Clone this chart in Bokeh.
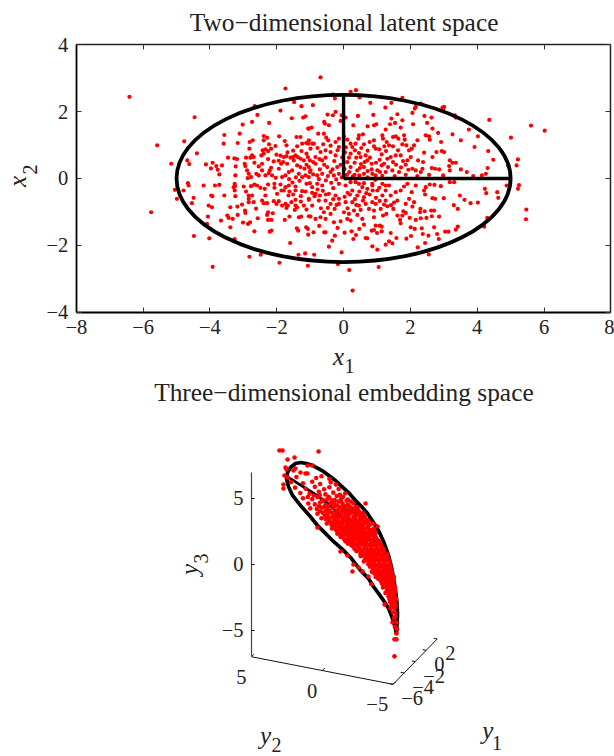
from math import pi
from bokeh.embed import file_html
from bokeh.resources import INLINE
from bokeh.layouts import column
from bokeh.models import ColumnDataSource, FixedTicker, Label, LinearAxis, Range1d
from bokeh.plotting import figure
from bokeh.core.properties import value

FONT = "Liberation Serif"
INK = "#222222"

# ---- latent space: (x1, x2) ----
latent_points = [
(-6.41,2.44),(-5.58,.99),(-5.16,.44),(-4.46,1.83),(-4.77,1.11),(-4.39,.75),(-4.68,.54),(-4.62,.43),(-4.12,.42),(-3.92,.47),
(-3.97,.30),(-3.81,.37),(-3.64,.39),(-3.77,.26),(-3.72,.12),(-3.46,.62),(-3.59,1.04),(-3.57,1.30),(-3.11,1.34),(-3.17,1.06),
(-3.27,.60),(-3.19,.58),(-3.23,.36),(-2.96,.44),(-2.92,.62),(-3.02,1.61),(-2.74,1.69),(-2.58,1.90),(-2.66,2.16),(-2.23,1.66),
(-1.89,2.03),(-1.74,2.69),(-1.48,2.28),(-1.26,2.16),(-1.55,1.80),(-1.21,1.82),(-1.14,1.86),(-1.04,1.49),(-2.39,1.27),(-1.93,1.26),
(-1.41,1.24),(-1.29,1.24),(-2.82,.89),(-2.81,1.09),(-2.72,1.14),(-2.39,1.14),(-2.29,1.22),(-2.23,1.02),(-2.42,.84),(-2.34,.87),
(-2.26,.82),(-2.17,.89),(-2.04,.97),(-2.39,.74),(-2.46,.69),(-2.01,.71),(-1.76,1.12),(-1.71,.99),(-1.39,.96),(-1.24,1.04),
(-1.12,1.06),(-1.04,1.14),(-.94,1.04),(-2.74,.69),(-2.69,.64),(-2.79,.62),(-2.67,.47),(-2.44,.44),(-2.17,.32),(-2.21,.24),
(-2.94,.37),(-2.89,.24),(-2.84,.14),(-2.77,.04),(-2.87,.01),(-2.61,.14),(-2.54,.09),(-2.44,.24),(-2.34,.09),(-2.24,.16),
(-2.14,.09),(-2.03,.02),(-1.94,.29),(-1.87,.44),(-1.81,.49),(-1.69,.44),(-1.79,.64),(-1.71,.67),(-1.59,.62),(-1.51,.64),
(-1.44,.69),(-1.37,.64),(-1.29,.59),(-1.19,.54),(-1.11,.74),(-1.07,.64),(-1.01,.54),(-1.49,.54),(-1.39,.39),(-1.29,.34),
(-1.17,.29),(-1.04,.34),(-1.64,.19),(-1.54,.24),(-1.74,.09),(-1.84,.04),(-1.34,.14),(-1.24,.04),(-1.14,.09),(-1.01,.19),
(-3.24,.09),(-3.26,-.16),(-3.29,-.26),
(-5.76,-1.01),(-3.92,-2.64),(-4.48,-1.72),(-4.02,-1.79),(-4.09,-1.36),(-4.06,-1.14),(-4.04,-.81),(-3.94,-.86),(-3.96,-.51),(-3.93,-.53),
(-4.49,-.58),(-4.54,-.74),(-4.79,-.36),(-4.99,-.61),(-5.05,-.34),(-4.66,-.14),(-4.64,-.21),(-4.19,-.21),(-3.85,-.21),(-3.72,-.19),
(-3.57,-.51),(-3.39,-.86),(-3.18,-.84),(-3.04,-.78),(-3.48,-1.11),(-3.44,-1.18),(-3.67,-1.26),(-3.32,-1.21),(-3.17,-1.09),(-2.95,-.96),
(-2.94,-1.03),(-3.01,-1.32),(-3.39,-1.46),(-2.86,-1.36),(-2.80,-1.31),(-2.57,-1.19),(-2.62,-.90),(-2.67,-1.58),(-3.26,-1.81),(-2.82,-2.34),
(-2.48,-2.28),(-1.92,-2.52),(-1.60,-1.93),(-1.35,-2.28),(-1.15,-2.24),(-1.07,-2.61),(-2.21,-1.59),(-2.16,-1.56),(-1.76,-1.24),(-1.40,-1.49),
(-1.36,-1.56),(-1.62,-1.14),(-1.34,-1.16),(-1.27,-1.14),(-1.04,-1.13),(-1.12,-1.46),(-1.07,-1.51),(-1.06,-1.68),(-2.26,-1.24),(-2.16,-1.24),
(-2.29,-1.09),(-2.26,-1.01),(-2.12,-1.04),(-2.84,-.51),(-2.84,-.61),(-2.84,-.71),(-2.69,-.71),(-2.74,-.51),(-3.24,-.53),(-3.26,-.36),
(-3.25,-.23),(-2.99,-.24),(-2.92,-.39),(-2.77,-.23),(-2.67,-.18),(-2.59,-.21),(-2.49,-.28),(-2.44,-.66),(-2.39,-.74),(-2.29,-.74),
(-2.34,-.51),(-2.36,-.31),(-2.26,-.18),(-2.07,-.16),(-2.07,-.28),(-1.89,-.18),(-1.86,-.36),(-1.99,-.46),(-2.09,-.68),(-2.01,-.76),
(-1.94,-.68),(-1.84,-.81),(-1.74,-.76),(-1.71,-.88),(-1.67,-.81),(-1.65,-.51),(-1.51,-.48),(-1.44,-.64),(-1.44,-.81),(-1.46,-.94),
(-1.39,-.86),(-1.19,-.81),(-1.11,-.93),(-1.04,-.64),(-1.74,-.26),(-1.64,-.21),(-1.44,-.24),(-1.44,-.36),(-1.24,-.38),(-1.14,-.39),
(-1.11,-.16),(-1.01,-.14),(-1.79,-.36),
(.27,-3.35),(.17,-2.74),(1.05,-2.65),(-.17,-2.56),(2.55,-2.27),(2.22,-2.06),(1.01,-2.13),(.86,-2.03),(-.06,-2.21),(-.44,-2.04),
(-.34,-1.86),(-.88,-2.28),(1.26,-1.98),(1.36,-1.88),(1.46,-1.94),(1.58,-1.78),(1.88,-1.80),(2.02,-1.72),(2.44,-1.93),(2.37,-1.66),
(2.54,-1.71),(2.80,-1.66),(2.85,-1.81),(3.04,-1.59),(3.14,-1.59),(3.36,-1.53),(3.42,-1.44),(4.21,-1.44),(4.30,-1.18),(5.47,-.93),
(5.46,-1.22),(2.71,-1.46),(2.34,-1.49),(2.13,-1.51),(2.01,-1.46),(1.41,-1.63),(.66,-1.78),(.71,-1.79),(.29,-1.81),(.24,-1.58),
(.37,-1.69),(.47,-1.51),(.84,-1.56),(.91,-1.54),(1.00,-1.63),(1.14,-1.58),(.96,-1.41),(1.08,-1.41),(1.14,-1.44),(-.58,-1.61),
(-.54,-1.61),(-.26,-1.71),(-.90,-1.61),(2.86,-1.14),(2.64,-1.13),(2.48,-1.18),(2.31,-1.19),(2.16,-1.24),(1.98,-1.18),(1.79,-.98),
(1.76,-1.11),(1.61,-1.11),(1.69,-1.24),(1.71,-1.34),(1.28,-1.06),(1.18,-1.11),(1.49,-.91),(1.86,-1.03),(2.06,-.84),(2.30,-.91),
(2.29,-1.01),(2.43,-.98),(2.62,-.96),(2.71,-.96),(3.30,-.80),(3.42,-.91),(3.80,-.74),(4.02,-.72),(3.62,-.64),(3.48,-.51),
(3.00,-.59),(2.74,-.61),(2.66,-.59),(2.44,-.48),(2.41,-.36),(2.46,-.26),(2.58,-.18),(2.72,-.19),(2.91,-.23),(3.18,-.11),
(3.31,-.11),(4.23,-.31),(4.27,-.44),(4.60,-.41),(4.63,-.58),(5.25,-.20),(5.22,-.31),(4.88,-.21),(2.16,-.21),(2.04,-.41),
(1.96,-.61),(2.11,-.71),(1.86,-.76),(1.61,-.66),(1.56,-.41),(1.26,-.36),(1.16,-.51),(1.01,-.36),(.86,-.21),(.71,-.31),
(.56,-.26),(.41,-.51),(.26,-.36),(.06,-.21),(-.14,-.16),(-.24,-.51),(-.14,-.61),(-.44,-.46),(-.54,-.66),(-.39,-.76),
(-.74,-.66),(-.84,-.46),(-1.04,-.61),(-.94,-.81),(-.69,-1.16),(-.54,-1.21),(-.29,-1.31),(-.09,-1.28),(.11,-1.21),(.21,-1.26),
(.41,-1.09),(.56,-1.21),(.91,-1.16),(.91,-.96),(.76,-.91),(.51,-.94),(.31,-.96),(.16,-1.06),(.01,-1.01),(-.39,-1.06),
(-.59,-1.01),(-.99,-1.14),(-.84,-1.21),(.96,-.76),(.86,-.71),(.66,-.76),(.46,-.81),(.26,-.71),(.06,-.71),(-.14,-.76),
(1.11,-.91),(1.26,-.66),(1.41,-.51),(1.71,-.36),(1.81,-.24),(1.91,-.16),(1.36,-.21),(1.16,-.16),(.46,-.16),(.21,-.11),
(-.64,-.21),(-.79,-.16),(-.94,-.26),(-.78,-.33),(-.62,-.37),(-.31,-.29),(.12,-.43),(.34,-.62),(.61,-.56),(.78,-.48),
(.97,-.58),(1.07,-.28),(1.31,-.83),(1.51,-.72),(-.27,-.91),(-.68,-.89),(-.18,-1.48),(.03,-1.62),(-.73,-1.42),(.61,-1.38),
(-.69,3.02),(.37,2.64),(.21,2.59),(-.32,2.51),(-.26,2.39),(-.92,2.19),(.48,2.42),(.80,2.26),(1.76,2.41),(1.25,2.12),
(1.43,2.26),(2.13,2.09),(2.16,2.14),(2.31,2.24),(2.96,2.12),(3.01,2.14),(2.98,2.06),(3.33,1.89),(3.36,1.82),(2.42,1.87),
(2.63,1.82),(2.06,1.96),(4.36,1.75),(5.61,1.58),(6.02,1.43),(5.01,1.22),(3.75,1.46),(4.02,1.26),(3.26,1.32),(2.83,1.36),
(2.66,1.49),(2.50,1.66),(2.08,1.62),(1.61,1.92),(1.76,1.74),(1.43,1.79),(1.54,1.66),(1.39,1.62),(1.71,1.52),(1.26,1.46),
(.89,1.90),(.43,1.87),(.29,1.59),(.72,1.56),(.91,1.59),(.98,1.62),(-.06,1.89),(.06,1.82),(-.24,1.99),(-.32,1.89),
(-.48,1.91),(-.58,1.69),(-.56,1.64),(-.44,1.59),(-.09,1.72),(-.96,1.52),(-1.06,1.49),(-.76,1.34),(-.59,1.34),(-.52,1.22),
(-.46,1.14),(-.24,1.09),(-.14,1.19),(.01,1.26),(.11,1.16),(.21,1.04),(.36,1.04),(.46,1.29),(.58,1.32),(.44,1.19),
(.61,1.02),(.91,1.14),(.78,1.09),(1.16,1.29),(1.18,1.19),(1.29,1.09),(1.48,1.24),(1.56,1.26),(1.64,1.19),(1.81,1.29),
(1.83,1.16),(1.36,.99),(1.48,.96),(1.76,1.02),(1.88,.99),(2.11,.99),(2.04,.89),(2.21,1.14),(2.46,1.29),(2.56,1.26),
(2.58,1.16),(2.92,1.09),(3.51,1.14),(3.92,.94),(4.33,.82),(4.48,.56),(4.93,.39),(5.22,.57),(5.18,.39),(4.31,.31),
(4.14,.09),(4.26,.14),(3.88,.07),(3.69,.19),(3.51,.27),(3.36,.47),(3.26,.47),(3.18,.54),(3.16,.37),(3.18,.24),
(3.01,.79),(2.94,.82),(2.78,.79),(2.66,.64),(2.64,.31),(2.74,.29),(2.86,.27),(2.98,.09),(2.38,.49),(2.41,.77),
(2.36,.29),(2.31,.19),(1.96,.84),(2.01,.64),(2.23,.54),(2.06,.29),(1.94,.26),(2.16,.24),(1.91,.54),(1.78,.52),
(1.71,.69),(1.56,.69),(1.41,.64),(1.31,.59),(1.48,.49),(1.21,.44),(1.08,.56),(1.14,.39),(1.01,.24),(.84,.44),
(.71,.54),(.66,.69),(.91,.96),(.96,.89),(.46,.76),(.51,.64),(.26,.94),(.34,.84),(.21,.74),(.11,.49),
(.21,.34),(.41,.24),(.61,.34),(.61,.14),(.86,.14),(1.26,.19),(1.46,.24),(1.66,.19),(-.14,.94),(-.24,.69),
(-.39,.79),(-.54,.84),(-.69,.79),(-.84,.64),(-.99,.89),(-1.06,1.04),(-.89,1.04),(-.64,.54),(-.49,.34),(-.39,.19),
(-.64,.14),(-.84,.44),(-.99,.24),(-.19,.34),(-.14,.14),(-.29,.09),(-.79,.09),(-1.04,.04),(.36,-.11),(.61,-.14),
(.86,-.16),(1.26,-.21),(-.47,.07),(-.33,.27),(-.71,.27),(-.58,.41),(-.09,.41),(.33,.47),(.52,.43),(.84,.27),
(1.16,.08),(1.53,.07),(1.86,.11),(2.21,.07),(2.56,.11),
(-.91,.12),(-.74,-.02),(-.53,-.06),(-.37,-.13),(-.22,-.03),(-.05,.03),(.1,.11),(.28,.06),(.47,.09),(.72,.03),
(.95,-.04),(-1.32,-.07),(-1.53,-.12),(-.87,-.53),(-.71,-.51),(-.53,-.48),(-.31,-.62),(.03,-.55),(.19,-.48),(.47,-.39),
(.68,-.44),(.87,-.36),(1.08,-.67),(1.21,-.78),(1.42,-.8),(-.47,-.88),(-.21,-.79),(.12,-.89),(.38,-.79),(.58,-.66),
(-.94,-.43),(-1.28,-.53),(-1.56,-.71),(-1.28,-.69),(-1.62,-.39),(.03,.28),(.17,.19),(.33,.11),(.49,.31),(.72,.22),
(.96,.09),(1.09,.19),(1.33,.34),(1.57,.41),(1.72,.33),(1.86,.41),(-.54,.62),(-.72,.58),(-.91,.49),(-1.11,.41),
(-.28,.52),(-.04,.63),(.04,.78),(.16,.62),(.38,.62),(.63,.49),(.79,.62),(.97,.47),(1.14,.72),(1.27,.82),
(-.39,.98),(-.61,1.02),(-.78,.91),(-.18,.84),(.07,.93),(.53,.91),(.72,.83),(1.07,.87),(1.22,.96),(1.63,.84),
(-1.26,.82),(-1.51,.83),(-1.68,.78),(-1.89,.68),(-1.94,.53),(-2.09,.51),(-2.26,.58),(-2.54,.36),(-1.63,-.02),(-1.43,.03),
]
latent_x1 = [a for a, b in latent_points]
latent_x2 = [b for a, b in latent_points]

# ---- embedding space: the cloud and the curve in the view plane (y3 units) ----
embedded_points = [
(2.12,8.64),(2.35,8.64),(5.08,8.56),(2.73,7.95),(3.26,8.11),(2.58,7.35),(2.65,7.2),(2.5,6.74),(2.42,6.06),(2.42,5.76),
(2.73,6.59),(3.18,7.12),(3.33,7.27),(3.71,6.97),(4.09,6.89),(4.24,6.89),(4.24,7.5),(4.62,7.5),(8.64,4.62),(9.55,2.88),
(10.3,.76),(7.65,-.53),(6.74,.98),(7.27,.68),(7.73,0),(8.11,-.23),(8.41,-.53),(8.86,-.91),(5.0,2.8),(9.39,2.35),
(9.09,-1.5),(10.08,-3.03),(10.53,-3.33),(10.68,-4.39),(10.9,-2.12),(10.9,-3.64),(10.98,-5.23),(10.83,-5.68),(10.98,-5.68),(10.83,-6.97),
(3.4,6.62),(4.9,6.55),(5.3,6.68),(5.9,6.5),(3.0,6.24),(3.9,6.15),(4.6,6.27),(5.2,6.1),(6.0,6.22),(6.4,6.05),
(3.3,5.82),(4.1,5.74),(4.8,5.88),(5.5,5.7),(5.9,5.85),(6.6,5.72),(3.7,5.42),(4.4,5.36),(5.1,5.5),(5.6,5.31),
(6.2,5.44),(6.7,5.28),(7.1,5.4),(3.9,5.02),(4.6,4.95),(5.0,5.1),(5.4,4.9),(5.9,5.05),(6.3,4.88),(6.8,5.0),
(7.3,4.92),(4.3,4.62),(4.8,4.55),(5.2,4.7),(5.6,4.5),(6.0,4.66),(6.5,4.48),(6.9,4.6),(7.3,4.52),(7.7,4.64),
(4.45,4.25),(4.95,4.2),(5.35,4.32),(5.8,4.15),(6.15,4.28),(6.55,4.12),(6.95,4.24),(7.35,4.1),(7.75,4.22),(8.05,4.3),
(5.0,3.85),(5.4,3.92),(5.75,3.78),(6.1,3.9),(6.45,3.75),(6.8,3.88),(7.1,3.72),(7.45,3.85),(7.8,3.7),(8.15,3.84),(8.45,3.9),
(5.3,3.5),(5.65,3.42),(6.0,3.56),(6.3,3.38),(6.6,3.52),(6.9,3.36),(7.2,3.5),(7.5,3.34),(7.8,3.48),(8.1,3.32),(8.4,3.46),(8.75,3.38),
(5.7,3.1),(6.05,3.02),(6.35,3.16),(6.65,3.0),(6.95,3.14),(7.25,2.98),(7.5,3.1),(7.8,2.96),(8.05,3.12),(8.35,2.98),(8.6,3.1),(8.95,3.0),(9.2,3.08),
(6.1,2.72),(6.4,2.62),(6.7,2.76),(7.0,2.6),(7.25,2.74),(7.5,2.6),(7.75,2.72),(8.0,2.58),(8.25,2.72),(8.5,2.6),(8.75,2.74),(9.0,2.6),(9.25,2.7),
(6.5,2.32),(6.8,2.24),(7.05,2.36),(7.3,2.22),(7.55,2.34),(7.8,2.2),(8.05,2.34),(8.3,2.2),(8.55,2.32),(8.8,2.22),(9.05,2.34),(9.3,2.2),
(7.0,1.94),(7.25,1.86),(7.5,1.98),(7.72,1.84),(7.95,1.96),(8.18,1.84),(8.4,1.96),(8.62,1.84),(8.85,1.96),(9.08,1.84),(9.3,1.96),(9.52,1.86),
(7.3,1.58),(7.55,1.48),(7.8,1.6),(8.02,1.46),(8.25,1.58),(8.48,1.46),(8.7,1.58),(8.92,1.46),(9.14,1.58),(9.36,1.46),(9.58,1.58),(9.8,1.5),
(7.8,1.18),(8.02,1.08),(8.24,1.2),(8.46,1.08),(8.68,1.2),(8.9,1.08),(9.12,1.2),(9.34,1.08),(9.56,1.2),(9.78,1.08),(10.0,1.18),
(8.25,.8),(8.46,.7),(8.68,.82),(8.9,.7),(9.12,.82),(9.34,.7),(9.56,.82),(9.78,.7),(10.0,.82),(10.2,.7),
(8.6,.4),(8.8,.3),(9.0,.42),(9.2,.3),(9.4,.42),(9.6,.3),(9.8,.42),(10.0,.3),(10.2,.42),(10.4,.32),
(8.85,.02),(9.05,-.08),(9.25,.04),(9.45,-.08),(9.65,.04),(9.85,-.08),(10.05,.04),(10.25,-.08),(10.45,.02),
(9.2,-.38),(9.4,-.46),(9.6,-.36),(9.8,-.46),(10.0,-.36),(10.2,-.46),(10.4,-.36),(10.58,-.44),
(9.55,-.78),(9.74,-.86),(9.92,-.76),(10.1,-.86),(10.28,-.76),(10.46,-.86),(10.62,-.76),
(9.75,-1.18),(9.93,-1.26),(10.1,-1.16),(10.28,-1.26),(10.46,-1.16),(10.64,-1.26),(10.78,-1.16),
(10.0,-1.58),(10.17,-1.66),(10.34,-1.56),(10.5,-1.66),(10.66,-1.56),(10.8,-1.66),
(10.26,-1.98),(10.42,-2.06),(10.58,-1.96),(10.72,-2.06),(10.85,-1.98),
(10.38,-2.42),(10.55,-2.5),(10.7,-2.4),(10.85,-2.5),(10.5,-2.82),(10.68,-2.9),(10.85,-2.82),
(10.66,-3.22),(10.84,-3.3),(10.72,-3.62),(10.92,-3.95),(10.8,-4.05),(10.98,-4.4),(10.86,-4.72),(11.02,-4.9),
(5.4,4.81),(6.13,4.84),(6.77,4.79),(7.21,4.83),(5.57,4.37),(6.31,4.41),(6.82,4.35),(7.44,4.39),(7.9,4.33),
(5.21,4.05),(5.93,4.02),(6.47,4.07),(7.05,4.01),(7.62,4.08),(8.14,4.03),(5.55,3.68),(6.22,3.65),(6.71,3.71),(7.33,3.64),(7.96,3.7),(8.27,3.66),
(5.92,3.27),(6.51,3.24),(7.07,3.3),(7.64,3.23),(8.19,3.29),(8.62,3.25),(6.27,2.86),(6.83,2.89),(7.38,2.84),(7.91,2.88),(8.44,2.83),(8.83,2.87),
(6.61,2.45),(7.13,2.48),(7.66,2.43),(8.17,2.47),(8.68,2.42),(9.13,2.46),(6.74,2.09),(7.36,2.06),(7.88,2.11),(8.39,2.07),(8.91,2.12),(9.42,2.05),
(7.12,1.75),(7.61,1.72),(8.12,1.77),(8.57,1.73),(9.02,1.78),(9.47,1.71),(9.7,1.76),(7.66,1.38),(8.09,1.35),(8.59,1.4),(9.01,1.36),(9.44,1.41),(9.86,1.34),
(7.95,1.01),(8.36,.98),(8.81,1.03),(9.27,.97),(9.67,1.02),(10.04,.99),(8.28,.62),(8.72,.59),(9.07,.64),(9.49,.58),(9.91,.63),(10.28,.6),
(8.51,.22),(8.93,.19),(9.33,.24),(9.72,.18),(10.12,.23),(10.47,.2),(8.98,-.17),(9.31,-.2),(9.7,-.15),(10.11,-.21),(10.52,-.16),
(9.12,-.55),(9.49,-.58),(9.88,-.53),(10.27,-.59),(10.63,-.54),(9.41,-.95),(9.79,-.98),(10.18,-.93),(10.55,-.99),(10.79,-.94),
(9.84,-1.33),(10.04,-1.36),(10.37,-1.31),(10.7,-1.37),(9.96,-1.75),(10.31,-1.78),(10.61,-1.73),(10.87,-1.79),
(10.15,-2.17),(10.49,-2.2),(10.79,-2.15),(10.45,-2.63),(10.78,-2.66),(10.95,-2.61),(10.6,-3.07),(10.95,-3.1),
(6.12,3.05),(6.74,3.07),(7.27,3.03),(7.83,3.08),(8.31,3.04),(6.88,2.62),(7.43,2.65),(7.97,2.6),(8.51,2.64),
(7.0,2.23),(7.57,2.26),(8.1,2.21),(8.65,2.25),(9.17,2.2),(7.4,1.86),(7.88,1.89),(8.45,1.84),(8.8,1.88),(9.27,1.83),
(7.93,1.52),(8.37,1.55),(8.79,1.5),(9.25,1.54),(9.69,1.49),(8.15,1.13),(8.59,1.16),(9.03,1.11),(9.45,1.15),(9.87,1.1),
(8.5,.74),(8.95,.77),(9.3,.72),(9.72,.76),(10.12,.71),(8.73,.38),(9.14,.41),(9.53,.36),(9.92,.4),(10.3,.35),
(9.15,-.1),(9.55,-.07),(9.93,-.12),(10.33,-.08),(9.31,-.68),(9.68,-.65),(10.07,-.7),(10.43,-.66),
(9.6,-1.08),(9.98,-1.05),(10.36,-1.1),(10.68,-1.06),(9.9,-1.46),(10.2,-1.43),(10.56,-1.48),
(5.17,5.27),(5.83,5.13),(6.46,5.19),(6.94,5.13),(7.52,4.77),(4.71,5.23),(4.27,5.11),(5.74,4.93),(6.58,4.77),(7.04,4.43),
(5.12,4.41),(5.82,4.42),(6.26,4.59),(6.68,4.32),(7.16,4.21),(7.55,4.27),(7.92,4.02),(5.63,4.07),(6.33,3.94),(6.84,4.02),
(7.25,3.91),(7.66,3.95),(8.32,3.71),(8.58,3.62),(5.86,3.53),(6.42,3.6),(6.94,3.55),(7.38,3.42),(7.72,3.58),(8.23,3.52),
(6.22,3.28),(6.78,3.21),(7.36,3.19),(7.93,3.24),(8.47,3.19),(8.88,3.22),(6.46,2.92),(7.1,2.82),(7.62,2.9),(8.19,2.86),
(6.88,2.45),(7.39,2.42),(7.92,2.45),(8.41,2.4),(8.92,2.48),(9.35,2.48),(6.92,2.06),(7.62,2.06),(8.15,2.03),(8.67,2.03),
]
embedded_u = [a for a, b in embedded_points]
embedded_v = [b for a, b in embedded_points]

curve_points = [
(10.98,-5.30),(10.91,-4.85),(10.68,-4.09),(10.38,-3.33),(10.0,-2.73),(9.62,-2.2),(9.24,-1.67),(8.86,-1.06),(8.26,-.45),(7.5,.53),
(6.89,1.14),(6.21,1.74),(5.61,2.35),(5.0,2.95),(4.32,3.79),(3.71,4.47),(3.11,5.23),(2.8,5.91),(2.65,6.52),(2.73,6.97),
(2.95,7.35),(3.33,7.65),(3.71,7.73),(4.17,7.65),(4.62,7.5),(5.45,7.05),(6.36,6.36),(7.35,5.45),(7.88,4.85),(8.33,4.39),
(8.79,3.86),(9.24,3.18),(9.62,2.58),(10.0,1.74),(10.38,.68),(10.61,-.23),(10.76,-1.06),(10.91,-1.97),(11.02,-2.88),(11.06,-3.79),
(11.02,-4.62),(10.98,-5.30),
]
curve_u = [a for a, b in curve_points]
curve_v = [b for a, b in curve_points]
spoke_a_u = [2.8, 4.7, 5.8, 7.3, 7.9]
spoke_a_v = [6.6, 5.4, 4.6, 3.2, 2.6]
spoke_b_u = [7.9, 7.9]
spoke_b_v = [2.6, 4.85]

x1_ticks = [-8, -6, -4, -2, 0, 2, 4, 6, 8]
x2_ticks = [-4, -2, 0, 2, 4]
y1_ticks = [2, 0, -2, -4, -6]
y2_ticks = [5, 0, -5]
y3_ticks = [-5, 0, 5]


def tick_text(t):
    return str(t).replace("-", "\u2212")


def text_label(fig, x, y, text, size, italic=False, angle=0):
    fig.add_layout(Label(x=x, y=y, text=text, angle=angle, text_align="center", text_baseline="middle",
                         text_font=FONT, text_font_size=size, text_color=INK,
                         text_font_style="italic" if italic else "normal"))


# ---------- top panel ----------
p1 = figure(width=614, height=377, frame_width=614, frame_height=377, output_backend="svg", toolbar_location=None,
            x_range=Range1d(-10.27, 8.11), y_range=Range1d(-5.95, 5.32), min_border_left=0, min_border_right=0,
            min_border_top=0, min_border_bottom=0,
            background_fill_color="white", border_fill_color="white", outline_line_color=None)
p1.grid.visible = False

for ax, tk, loc, bd in ((p1.xaxis[0], x1_ticks, -4, (-8, 8)), (p1.yaxis[0], x2_ticks, -8, (-4, 4))):
    ax.fixed_location = loc
    ax.bounds = bd
    ax.ticker = FixedTicker(ticks=tk)
    ax.major_label_overrides = {t: tick_text(t) for t in tk}
    ax.major_label_text_font = FONT
    ax.major_label_text_font_size = "20.5px"
    ax.major_label_text_color = INK
    ax.major_tick_in = 5
    ax.major_tick_out = 0
    ax.minor_tick_in = 0
    ax.minor_tick_out = 0
    ax.axis_line_width = 1.8
    ax.axis_line_color = "black"
    ax.major_tick_line_color = "#333333"
    ax.major_label_standoff = 8
for side, tk, loc, bd in (("above", x1_ticks, 4, (-8, 8)), ("right", x2_ticks, 8, (-4, 4))):
    ax = LinearAxis(ticker=FixedTicker(ticks=tk), major_label_overrides={t: "" for t in tk}, fixed_location=loc, bounds=bd,
                    major_tick_in=5, major_tick_out=0, minor_tick_in=0, minor_tick_out=0,
                    axis_line_width=1.5, axis_line_color="#222222", major_tick_line_color="#333333",
                    major_label_standoff=0, major_label_text_font_size="1px")
    p1.add_layout(ax, side)

src = ColumnDataSource(dict(x=latent_x1, y=latent_x2))
p1.scatter("x", "y", source=src, size=4.2, color="#ff0000", line_color=None)
p1.ellipse(x=[0], y=[0], width=[10], height=[5], fill_color=None, line_color="black", line_width=3.8)
p1.line([0, 5], [0, 0], line_color="black", line_width=3.4)
p1.line([0, 0], [0, 2.5], line_color="black", line_width=3.4)

text_label(p1, .015, 4.69, "Two\u2212dimensional latent space", "25.4px")
text_label(p1, -.15, -5.32, "x", "25px", True)
text_label(p1, .18, -5.6, "1", "20px")
text_label(p1, -9.76, -.09, "x", "25px", True, pi / 2)
text_label(p1, -9.4, .27, "2", "20px", False, pi / 2)

# ---------- bottom panel ----------
p2 = figure(width=614, height=379, frame_width=614, frame_height=379, output_backend="svg", toolbar_location=None,
            x_range=Range1d(-19.015, 27.5), y_range=Range1d(-14.56, 14.17), min_border_left=0, min_border_right=0,
            min_border_top=0, min_border_bottom=0,
            background_fill_color="white", border_fill_color="white", outline_line_color=None)
p2.grid.visible = False
p2.xaxis.visible = False

y3ax = p2.yaxis[0]
y3ax.fixed_location = 0
y3ax.bounds = (-7, 7)
y3ax.ticker = FixedTicker(ticks=y3_ticks)
y3ax.major_label_overrides = {t: tick_text(t) for t in y3_ticks}
y3ax.major_label_text_font = FONT
y3ax.major_label_text_font_size = "20.5px"
y3ax.major_label_text_color = INK
y3ax.major_tick_in = 3
y3ax.major_tick_out = 0
y3ax.minor_tick_in = 0
y3ax.minor_tick_out = 0
y3ax.major_label_standoff = 8
y3ax.axis_line_color = "#444444"
y3ax.axis_line_width = 1.2


def project(y1, y2):
    """View-plane position of a point on the floor of the 3-D box (y3 = -7)."""
    return (5 - y2) * 1.073 + (y1 + 6) * 0.4175, -7 - (5 - y2) * 0.209 + (y1 + 6) * 0.43


y2_line = [project(-6, t) for t in (5, -5)]
y1_line = [project(t, -5) for t in (-6, 2)]
p2.line([a for a, b in y2_line], [b for a, b in y2_line], line_color="#111111", line_width=1)
p2.line([a for a, b in y1_line], [b for a, b in y1_line], line_color="#111111", line_width=1)
for t in y2_ticks:
    a, b = project(-6, t)
    c, d = project(-5.55, t)
    p2.line([a, c], [b, d], line_color="#111111", line_width=1)
for t in y1_ticks:
    a, b = project(t, -5)
    c, d = project(t, -4.75)
    p2.line([a, c], [b, d], line_color="#111111", line_width=1)

pos = [project(-6, t) for t in y2_ticks]
p2.text([a for a, b in pos], [b for a, b in pos], text=[tick_text(t) for t in y2_ticks], x_offset=-5, y_offset=20,
        text_align="right", text_baseline="middle", text_font=value(FONT), text_font_size="20.5px", text_color=INK)
pos = [project(t, -5) for t in y1_ticks]
p2.text([a for a, b in pos], [b for a, b in pos], text=[tick_text(t) for t in y1_ticks], x_offset=8, y_offset=14,
        text_align="left", text_baseline="middle", text_font=value(FONT), text_font_size="20.5px", text_color=INK)

p2.line(curve_u, curve_v, line_color="black", line_width=3.7)
p2.line(spoke_a_u, spoke_a_v, line_color="black", line_width=2.8)
p2.line(spoke_b_u, spoke_b_v, line_color="black", line_width=2.8)
p2.scatter(embedded_u, embedded_v, size=4.6, color="#ff0000", line_color=None)

text_label(p2, 7.0, 13.06, "Three\u2212dimensional embedding space", "25.4px")
text_label(p2, 1.06, -13.0, "y", "25px", True)
text_label(p2, 1.89, -13.71, "2", "20px")
text_label(p2, 17.9, -12.6, "y", "25px", True)
text_label(p2, 18.6, -13.5, "1", "20px")
text_label(p2, -4.7, -.38, "y", "25px", True, pi / 2)
text_label(p2, -3.86, .45, "3", "20px", False, pi / 2)

page = column(p1, p2, spacing=0)
open("out.html", "w").write(file_html(page, INLINE))
